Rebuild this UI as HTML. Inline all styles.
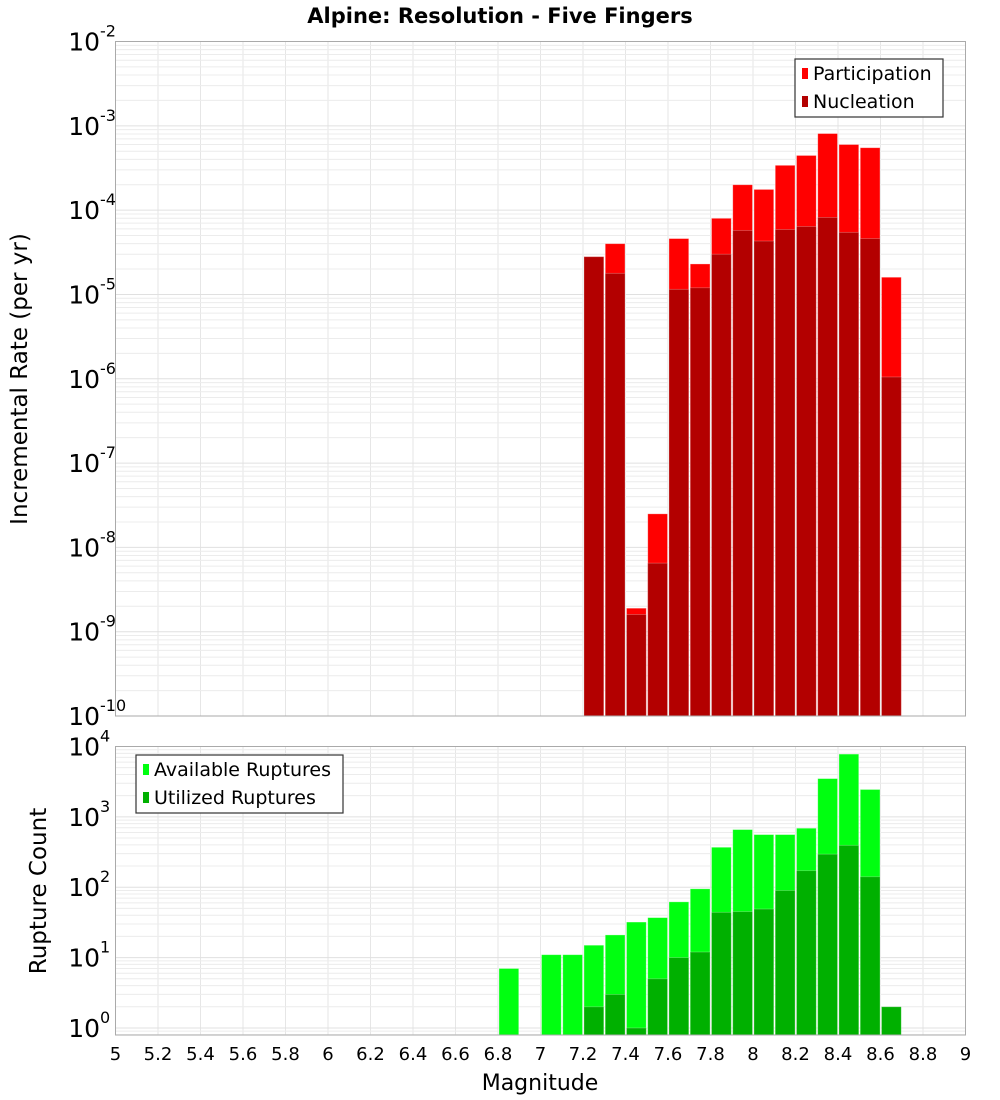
<!DOCTYPE html>
<html><head><meta charset="utf-8"><style>
html,body{margin:0;padding:0;background:#fff}
svg{display:block;font-family:"DejaVu Sans","Liberation Sans",sans-serif}
</style></head><body>
<svg id="chart" width="1000" height="1100" xmlns="http://www.w3.org/2000/svg">
<text x="500" y="23" text-anchor="middle" font-size="21" font-weight="bold">Alpine: Resolution - Five Fingers</text>
<g id="top"></g>
<g id="bot"></g>
<text transform="translate(27,379) rotate(-90)" text-anchor="middle" font-size="23">Incremental Rate (per yr)</text>
<text transform="translate(46,891) rotate(-90)" text-anchor="middle" font-size="23">Rupture Count</text>
<text x="540" y="1090" text-anchor="middle" font-size="22">Magnitude</text>
</svg>
<script>
const binStarts = [6.8,7.0,7.1,7.2,7.3,7.4,7.5,7.6,7.7,7.8,7.9,8.0,8.1,8.2,8.3,8.4,8.5,8.6];
const participation = [null,null,null,2.8e-5,4.0e-5,1.9e-9,2.5e-8,4.6e-5,2.3e-5,8.0e-5,2.0e-4,1.76e-4,3.4e-4,4.45e-4,8.1e-4,6.0e-4,5.5e-4,1.6e-5];
const nucleation = [null,null,null,2.8e-5,1.78e-5,1.6e-9,6.5e-9,1.15e-5,1.2e-5,3.0e-5,5.75e-5,4.3e-5,5.9e-5,6.4e-5,8.2e-5,5.45e-5,4.6e-5,1.05e-6];
const available = [7,11,11,15,21,32,37,62,95,370,660,560,560,690,3500,7800,2450,null];
const utilized = [null,null,null,2,3,1,5,10,12,44,45,49,90,172,295,394,141,2];
const xTicks = [5,5.2,5.4,5.6,5.8,6,6.2,6.4,6.6,6.8,7,7.2,7.4,7.6,7.8,8,8.2,8.4,8.6,8.8,9];
const topDecades = [-10,-9,-8,-7,-6,-5,-4,-3,-2];
const botDecades = [0,1,2,3,4];

const NS="http://www.w3.org/2000/svg";
const L=115.5,R=965.5;
const xs=m=>L+(m-5)/4*(R-L);
function mk(parent,tag,attrs){const e=document.createElementNS(NS,tag);for(const k in attrs)e.setAttribute(k,attrs[k]);parent.appendChild(e);return e;}
function panel(g,top,bot,lmin,lmax,decades,series,colors,names,legend){
  const ys=v=>bot-(Math.log10(v)-lmin)/(lmax-lmin)*(bot-top);
  const grid=mk(g,'g',{});
  
  
  xTicks.forEach(t=>{mk(grid,'line',{x1:xs(t),x2:xs(t),y1:top,y2:bot,stroke:'#e6e6e6','stroke-width':1});});
  for(let d=Math.floor(lmin);d<=Math.ceil(lmax);d++){for(let k=1;k<10;k++){const v=Math.log10(k)+d;if(v<lmin||v>lmax)continue;const y=ys(Math.pow(10,v));mk(grid,'line',{x1:L,x2:R,y1:y,y2:y,stroke:k==1?'#e0e0e0':'#ececec','stroke-width':1});}}
  series.forEach((arr,si)=>{arr.forEach((v,i)=>{if(v==null)return;const x0=xs(binStarts[i]),x1=xs(binStarts[i]+0.1);const y=ys(v);
    const r=mk(g,'rect',{x:x0+1,y:y,width:x1-x0-1.5,height:bot-y,fill:colors[si],stroke:colors[si]=='#ff0000'||colors[si]=='#00ff10'?'rgba(255,255,255,0.4)':'rgba(255,255,255,0.3)','stroke-width':0.8});
    
    });});
  mk(g,'rect',{x:L,y:top,width:R-L,height:bot-top,fill:'none',stroke:'#aaaaaa','stroke-width':1});
  decades.forEach(d=>{const y=ys(Math.pow(10,d));const t=mk(g,'text',{x:100,y:y+9,'text-anchor':'end','font-size':25});t.textContent='10';
    
    
    const s=mk(g,'text',{x:100,y:y-5,'font-size':16});s.textContent=String(d);
    
    });
  const lg=mk(g,'g',{});
  
  
  mk(lg,'rect',{x:legend.x,y:legend.y,width:legend.w,height:58,fill:'#fff',stroke:'#333','stroke-width':1.2});
  legend.labels.forEach((lab,i)=>{const yy=legend.y+14+i*28;mk(lg,'rect',{x:legend.x+7,y:yy-5,width:6,height:11,fill:colors[i]});
    const t=mk(lg,'text',{x:legend.x+18,y:yy+7,'font-size':19});t.textContent=lab;
    
    });
}
panel(document.getElementById('top'),41.5,716,-10,-2,topDecades,[participation,nucleation],['#ff0000','#b30000'],['participation','nucleation'],{x:795,y:59,w:148,labels:['Participation','Nucleation']});
panel(document.getElementById('bot'),746.5,1035,-0.1,4,botDecades,[available,utilized],['#00ff10','#00b000'],['available','utilized'],{x:136,y:755,w:207,labels:['Available Ruptures','Utilized Ruptures']});
const svg=document.getElementById('chart');
xTicks.forEach(t=>{const e=mk(svg,'text',{x:xs(t),y:1060,'text-anchor':'middle','font-size':18});e.textContent=String(t);
  
  });
</script>
</body></html>
